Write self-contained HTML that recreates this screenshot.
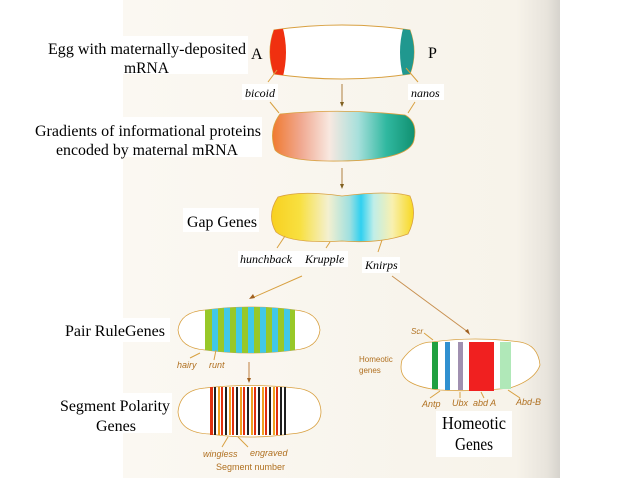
<!DOCTYPE html>
<html><head><style>
html,body{margin:0;padding:0;background:#fff;width:640px;height:480px;overflow:hidden}
svg{display:block}
.t{font-family:"Liberation Serif",serif;fill:#000}
.i{font-family:"Liberation Serif",serif;font-style:italic;fill:#000;font-size:12px}
.s{font-family:"Liberation Sans",sans-serif;font-style:italic;fill:#b07020;font-size:9px}
</style></head><body>
<svg width="640" height="480" viewBox="0 0 640 480">
<defs>
<linearGradient id="bg" x1="0" x2="1"><stop offset="0" stop-color="#fbf8f2"/><stop offset="0.9" stop-color="#f7f3ea"/><stop offset="0.97" stop-color="#e8e4dc"/><stop offset="1" stop-color="#d6d3cd"/></linearGradient>
<linearGradient id="g2" x1="0" x2="1"><stop offset="0" stop-color="#f07a30"/><stop offset="0.2" stop-color="#f0a890"/><stop offset="0.4" stop-color="#f8e8e0"/><stop offset="0.6" stop-color="#a8e0dc"/><stop offset="0.8" stop-color="#30b8a0"/><stop offset="1" stop-color="#109070"/></linearGradient>
<linearGradient id="g3" x1="0" x2="1"><stop offset="0" stop-color="#f8d020"/><stop offset="0.2" stop-color="#f8e040"/><stop offset="0.4" stop-color="#f4f0d0"/><stop offset="0.55" stop-color="#a0e0e0"/><stop offset="0.63" stop-color="#30d0f0"/><stop offset="0.72" stop-color="#c0eee8"/><stop offset="0.85" stop-color="#f8f0b0"/><stop offset="1" stop-color="#f8d820"/></linearGradient>
<clipPath id="c1"><path d="M274,30 Q342,20 410,30 Q418,52 410,74 Q342,84 274,74 Q266,52 274,30Z"/></clipPath>
<clipPath id="c4"><path d="M205,310 Q250,304 295,310 L295,350 Q250,356 205,350Z"/></clipPath>
</defs>
<rect x="123" y="0" width="437" height="478" fill="url(#bg)"/>
<!-- Egg 1 -->
<path d="M274,30 Q342,20 410,30 Q418,52 410,74 Q342,84 274,74 Q266,52 274,30Z" fill="#fff" stroke="#d8a040" stroke-width="1"/>
<g clip-path="url(#c1)"><path d="M265,25 L282,25 Q290,52 282,80 L265,80Z" fill="#f03010"/><path d="M420,25 L404,25 Q396,52 404,80 L420,80Z" fill="#20988f"/></g>
<rect x="42" y="36" width="206" height="38" fill="#fff"/>
<text class="t" x="48" y="54" font-size="16" textLength="198" lengthAdjust="spacingAndGlyphs">Egg with maternally-deposited</text>
<text class="t" x="124" y="73" font-size="16" textLength="45" lengthAdjust="spacingAndGlyphs">mRNA</text>
<text class="t" x="251" y="59" font-size="16">A</text>
<text class="t" x="428" y="58" font-size="16">P</text>
<line x1="277" y1="70" x2="268" y2="82" stroke="#d8a040"/><line x1="406" y1="68" x2="418" y2="82" stroke="#d8a040"/>
<rect x="242" y="84" width="36" height="16" fill="#fff"/><text class="i" x="245" y="97">bicoid</text>
<rect x="408" y="84" width="36" height="16" fill="#fff"/><text class="i" x="411" y="97">nanos</text>
<line x1="270" y1="102" x2="279" y2="113" stroke="#d8a040"/><line x1="415" y1="102" x2="408" y2="113" stroke="#d8a040"/>
<line x1="342" y1="84" x2="342" y2="104" stroke="#b08040"/><path d="M340,102 L344,102 L342,107Z" fill="#806020"/>
<!-- Egg 2 -->
<path d="M280,114 Q342,108 405,115 Q418,122 414,140 Q410,160 342,161 Q285,162 275,150 Q268,130 280,114Z" fill="url(#g2)" stroke="#d8a040" stroke-width="0.8"/>
<rect x="30" y="117" width="232" height="40" fill="#fff"/>
<text class="t" x="35" y="136" font-size="16" textLength="226" lengthAdjust="spacingAndGlyphs">Gradients of informational proteins</text>
<text class="t" x="56" y="155" font-size="16" textLength="182" lengthAdjust="spacingAndGlyphs">encoded by maternal mRNA</text>
<line x1="342" y1="168" x2="342" y2="186" stroke="#b08040"/><path d="M340,184 L344,184 L342,189Z" fill="#806020"/>
<!-- Egg 3 -->
<path d="M278,197 Q300,190 342,196 Q390,190 410,196 Q418,215 408,234 Q380,244 342,241 Q290,244 276,232 Q266,215 278,197Z" fill="url(#g3)" stroke="#d8a040" stroke-width="0.8"/>
<rect x="183" y="208" width="76" height="24" fill="#fff"/>
<text class="t" x="187" y="227" font-size="16" textLength="70" lengthAdjust="spacingAndGlyphs">Gap Genes</text>
<line x1="285" y1="236" x2="277" y2="248" stroke="#d8a040"/><line x1="330" y1="242" x2="326" y2="248" stroke="#d8a040"/><line x1="382" y1="240" x2="378" y2="252" stroke="#d8a040"/>
<rect x="238" y="251" width="110" height="16" fill="#fff"/>
<text class="i" x="240" y="263">hunchback</text><text class="i" x="305" y="263">Krupple</text>
<rect x="362" y="257" width="38" height="16" fill="#fff"/><text class="i" x="365" y="269">Knirps</text>
<line x1="302" y1="276" x2="252" y2="298" stroke="#d8a040"/><path d="M249,299 L253,294 L255,298Z" fill="#a06020"/>
<line x1="392" y1="276" x2="468" y2="332" stroke="#c89050"/><path d="M470,335 L465,331 L468,329Z" fill="#a06020"/>
<!-- Pair rule -->
<path d="M205,310 Q180,312 178,330 Q180,348 205,350 Q250,356 295,350 Q318,348 320,330 Q318,312 295,310 Q250,304 205,310Z" fill="#fff" stroke="#d8a040" stroke-width="0.8"/>
<g clip-path="url(#c4)">
<rect x="205" y="300" width="90" height="60" fill="#40c8e8"/>
<g fill="#98c828"><rect x="205" y="300" width="7" height="60"/><rect x="218" y="300" width="6" height="60"/><rect x="230" y="300" width="6" height="60"/><rect x="242" y="300" width="6" height="60"/><rect x="254" y="300" width="6" height="60"/><rect x="266" y="300" width="6" height="60"/><rect x="278" y="300" width="6" height="60"/><rect x="290" y="300" width="5" height="60"/></g>
</g>
<rect x="60" y="318" width="110" height="24" fill="#fff"/>
<text class="t" x="65" y="336" font-size="16" textLength="100" lengthAdjust="spacingAndGlyphs">Pair RuleGenes</text>
<line x1="200" y1="353" x2="190" y2="358" stroke="#d8a040"/><line x1="216" y1="350" x2="214" y2="360" stroke="#d8a040"/>
<text class="s" x="177" y="368">hairy</text><text class="s" x="209" y="368">runt</text>
<line x1="249" y1="362" x2="249" y2="380" stroke="#c08040"/><path d="M247,378 L251,378 L249,383Z" fill="#a06020"/>
<!-- Segment polarity -->
<path d="M205,388 Q180,390 178,412 Q180,433 210,434 Q250,440 290,434 Q320,432 321,412 Q320,390 295,388 Q250,383 205,388Z" fill="#fff" stroke="#d8a040" stroke-width="0.8"/>
<g>
<rect x="210" y="387" width="3" height="48" fill="#e03010"/><rect x="214" y="387" width="2" height="48" fill="#202020"/><rect x="218" y="387" width="2" height="48" fill="#f0a020"/><rect x="221" y="387" width="2" height="48" fill="#e03010"/><rect x="225" y="387" width="2" height="48" fill="#202020"/><rect x="229" y="387" width="2" height="48" fill="#f0a020"/><rect x="232" y="387" width="2" height="48" fill="#e03010"/><rect x="236" y="387" width="2" height="48" fill="#202020"/><rect x="240" y="387" width="2" height="48" fill="#f0a020"/><rect x="243" y="387" width="2" height="48" fill="#e03010"/><rect x="247" y="387" width="2" height="48" fill="#202020"/><rect x="251" y="387" width="2" height="48" fill="#f0a020"/><rect x="254" y="387" width="2" height="48" fill="#e03010"/><rect x="258" y="387" width="2" height="48" fill="#202020"/><rect x="262" y="387" width="2" height="48" fill="#f0a020"/><rect x="265" y="387" width="2" height="48" fill="#e03010"/><rect x="269" y="387" width="2" height="48" fill="#202020"/><rect x="273" y="387" width="2" height="48" fill="#f0a020"/><rect x="276" y="387" width="2" height="48" fill="#e03010"/><rect x="280" y="387" width="2" height="48" fill="#202020"/><rect x="284" y="387" width="2" height="48" fill="#202020"/>
</g>
<rect x="54" y="393" width="118" height="40" fill="#fff"/>
<text class="t" x="60" y="411" font-size="16" textLength="110" lengthAdjust="spacingAndGlyphs">Segment Polarity</text>
<text class="t" x="96" y="431" font-size="16" textLength="40" lengthAdjust="spacingAndGlyphs">Genes</text>
<line x1="228" y1="437" x2="222" y2="447" stroke="#d8a040"/><line x1="238" y1="437" x2="248" y2="447" stroke="#d8a040"/>
<text class="s" x="203" y="457">wingless</text><text class="s" x="250" y="456">engraved</text>
<text font-family="Liberation Sans,sans-serif" font-size="9" fill="#b07020" x="216" y="470">Segment number</text>
<!-- Homeotic -->
<path d="M432,342 Q415,342 402,360 Q398,375 410,382 Q420,388 440,390 Q470,392 510,388 Q535,380 540,365 Q538,345 520,342 Q475,336 432,342Z" fill="#fff" stroke="#d8a040" stroke-width="0.8"/>
<rect x="432" y="342" width="6" height="47" fill="#20a040"/><rect x="445" y="342" width="5" height="48" fill="#3090d0"/><rect x="458" y="342" width="5" height="48" fill="#a090b0"/><rect x="469" y="342" width="25" height="49" fill="#f02020"/><rect x="500" y="342" width="11" height="47" fill="#b0e8b8"/>
<text font-family="Liberation Sans,sans-serif" font-style="italic" font-size="8" fill="#b07020" x="411" y="334">Scr</text>
<line x1="424" y1="333" x2="433" y2="340" stroke="#d8a040"/>
<text font-family="Liberation Sans,sans-serif" font-size="8" fill="#b07020" x="359" y="362">Homeotic</text>
<text font-family="Liberation Sans,sans-serif" font-size="8" fill="#b07020" x="359" y="373">genes</text>
<line x1="440" y1="391" x2="430" y2="398" stroke="#d8a040"/><line x1="460" y1="392" x2="460" y2="398" stroke="#d8a040"/><line x1="481" y1="392" x2="484" y2="398" stroke="#d8a040"/><line x1="508" y1="390" x2="520" y2="398" stroke="#d8a040"/>
<text class="s" x="422" y="407">Antp</text><text class="s" x="452" y="406">Ubx</text><text class="s" x="473" y="406">abd A</text><text class="s" x="516" y="405">Abd-B</text>
<rect x="436" y="411" width="76" height="46" fill="#fff"/>
<text class="t" x="442" y="429" font-size="18" textLength="64" lengthAdjust="spacingAndGlyphs">Homeotic</text>
<text class="t" x="455" y="450" font-size="18" textLength="38" lengthAdjust="spacingAndGlyphs">Genes</text>
</svg>
</body></html>
